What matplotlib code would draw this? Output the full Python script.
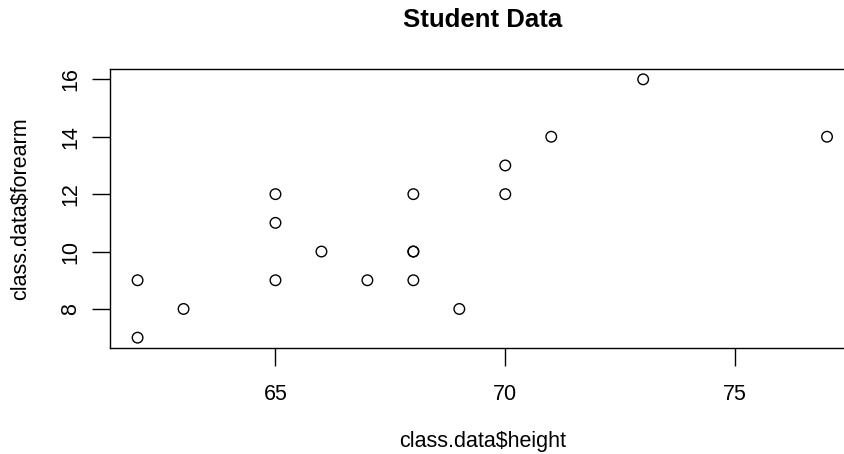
import matplotlib
matplotlib.use("Agg")
import matplotlib.pyplot as plt

height = [62, 62, 63, 65, 65, 65, 66, 67, 68, 68, 68, 68, 69, 70, 70, 71, 73, 77]
forearm = [9, 7, 8, 12, 11, 9, 10, 9, 12, 10, 10, 9, 8, 13, 12, 14, 16, 14]
xticks = [65, 70, 75]
yticks = [8, 10, 12, 14, 16]

plt.rcParams["font.family"] = ["Liberation Sans", "DejaVu Sans"]

fig = plt.figure(figsize=(8.45, 4.54), dpi=100)
W, H = 845, 454
left, right, top, bottom = 110, 854.6, 69, 348
ax = fig.add_axes([left / W, (H - bottom) / H, (right - left) / W, (bottom - top) / H])

ax.scatter(height, forearm, s=58, facecolors="none", edgecolors="black", linewidths=1.0)
ax.set_xlim(61.4, 77.6)
ax.set_ylim(6.64, 16.36)
ax.set_xticks(xticks)
ax.set_yticks(yticks)
ax.tick_params(length=13, width=1, labelsize=15.5)
ax.tick_params(axis="x", pad=13)
ax.tick_params(axis="y", labelrotation=90, pad=7.5)
for lab in ax.get_yticklabels():
    lab.set_verticalalignment("center")
for s in ax.spines.values():
    s.set_linewidth(1)
ax.spines["right"].set_visible(False)

cx = (left + right) / 2
fig.text(cx, H - 27, "Student Data", transform=None, ha="center", va="baseline",
         fontsize=18.5, fontweight="bold")
fig.text(cx, H - 447, "class.data$height", transform=None, ha="center", va="baseline",
         fontsize=15.5)
fig.text(21, H - (top + bottom) / 2, "class.data$forearm", transform=None, ha="center",
         va="center", rotation=90, fontsize=15.5)

fig.savefig("out.png", dpi=100)
